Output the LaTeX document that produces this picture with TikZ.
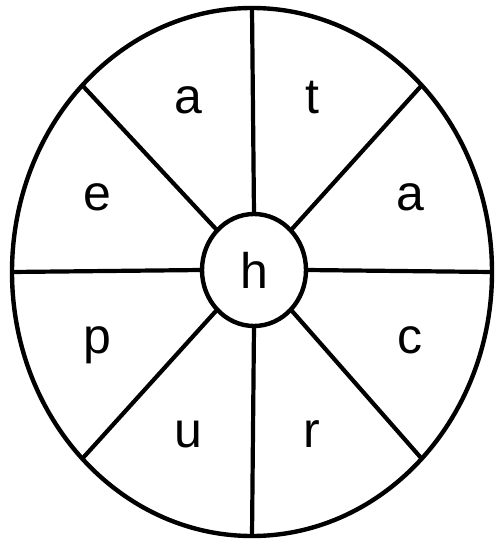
\documentclass[tikz,border=0pt]{standalone}
\usepackage{fontspec}
\setmainfont{Liberation Sans}
\usetikzlibrary{shapes.geometric}
\begin{document}
\begin{tikzpicture}[x=1pt,y=-1pt]
      \tikzset{
            wheelrim/.style={ellipse, draw, line width=4.4pt, inner sep=0pt, outer sep=0pt, minimum width=480pt, minimum height=528pt},
            wheelhub/.style={ellipse, draw, line width=4.4pt, inner sep=0pt, outer sep=0pt, minimum width=104pt, minimum height=112pt, font=\fontsize{50}{58}\selectfont},
            wheelspoke/.style={line width=4.2pt},
            wheelletter/.style={anchor=base, inner sep=0pt, font=\fontsize{50}{58}\selectfont}
      }
      \useasboundingbox (0,0) rectangle (497,545);

      % Rim and hub
      \node[wheelrim] (rim) at (252,272) {};
      \node[wheelhub] (hub) at (254,270) {h};

      % Spokes
      \foreach \a in {north, north east, east, south east, south, south west, west, north west}
            \draw[wheelspoke] (hub.\a) -- (rim.\a);

      % Letters
      \node[wheelletter] (la) at (188,114) {a};
      \node[wheelletter] (lt) at (312,114) {t};
      \node[wheelletter] (le) at (97,210) {e};
      \node[wheelletter] (lb) at (410,210) {a};
      \node[wheelletter] (lp) at (97,353) {p};
      \node[wheelletter] (lc) at (410,353) {c};
      \node[wheelletter] (lu) at (188,447) {u};
      \node[wheelletter] (lr) at (312,447) {r};
\end{tikzpicture}
\end{document}
